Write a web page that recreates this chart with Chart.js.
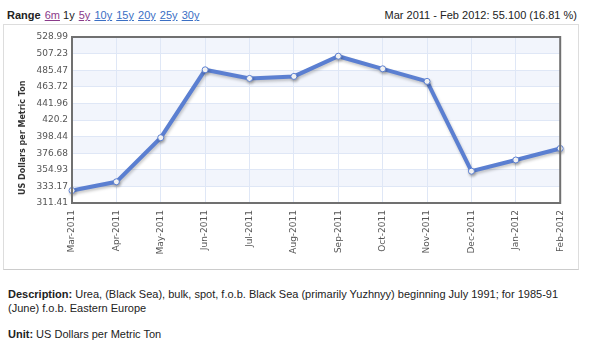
<!DOCTYPE html>
<html>
<head>
<meta charset="utf-8">
<script src="https://cdn.jsdelivr.net/npm/chart.js@4"></script>
<style>
  body { margin: 0; background: #fff; width: 600px; height: 353px; overflow: hidden; font-family: "Liberation Sans", Arial, sans-serif; }
  #head { position: absolute; left: 7px; top: 9px; font-size: 11px; color: #222; }
  #head a { text-decoration: underline; color: #3b6fc4; margin-left: 1px; }
  #head a.v { color: #8a3a8a; }
  #change { position: absolute; right: 23px; top: 9px; font-size: 11px; color: #222; }
  #box { position: absolute; left: 3px; top: 24px; width: 574px; height: 244px; border: 1px solid #ddd; border-bottom-color: #ccc; }
  #wrap { position: absolute; left: 0; top: 0; width: 574px; height: 244px; }
  #desc { position: absolute; left: 8px; top: 287px; font-size: 11px; line-height: 14px; color: #222; }
  #unit { position: absolute; left: 8px; top: 328px; font-size: 11px; color: #222; }
</style>
</head>
<body>
<div id="head"><b>Range</b> <a class="v">6m</a> 1y <a class="v">5y</a> <a>10y</a> <a>15y</a> <a>20y</a> <a>25y</a> <a>30y</a></div>
<div id="change">Mar 2011 - Feb 2012: 55.100 (16.81 %)</div>
<div id="box"><div id="wrap"><canvas id="myChart"></canvas></div></div>
<div id="desc"><b>Description:</b> Urea, (Black Sea), bulk, spot, f.o.b. Black Sea (primarily Yuzhnyy) beginning July 1991; for 1985-91<br>(June) f.o.b. Eastern Europe</div>
<div id="unit"><b>Unit:</b> US Dollars per Metric Ton</div>
<script>
const months = ['Mar-2011','Apr-2011','May-2011','Jun-2011','Jul-2011','Aug-2011','Sep-2011','Oct-2011','Nov-2011','Dec-2011','Jan-2012','Feb-2012'];
const prices = [327.78, 339.2, 397.0, 486.0, 474.7, 477.3, 503.8, 487.3, 470.8, 353.1, 367.8, 382.88];
const yTicks = [311.41, 333.17, 354.93, 376.68, 398.44, 420.2, 441.96, 463.72, 485.47, 507.23, 528.99];
const yTitle = 'US Dollars per Metric Ton';

// alternating bands, line shadow, dark frame and the axis title
const frame = {
  id: 'frame',
  beforeDraw(chart) {
    const {ctx, chartArea: a, scales: {y}} = chart;
    ctx.save();
    ctx.fillStyle = '#f2f5fc';
    for (let i = 1; i < yTicks.length - 1; i += 2) {
      const top = y.getPixelForValue(yTicks[i + 1]);
      const bot = y.getPixelForValue(yTicks[i]);
      ctx.fillRect(a.left, top, a.right - a.left, bot - top);
    }
    ctx.restore();
  },
  beforeDatasetsDraw(chart) {
    const ctx = chart.ctx;
    ctx.save();
    ctx.shadowColor = 'rgba(0,0,0,0.22)';
    ctx.shadowBlur = 3;
    ctx.shadowOffsetX = 1;
    ctx.shadowOffsetY = 2;
  },
  afterDatasetsDraw(chart) {
    chart.ctx.restore();
  },
  afterDraw(chart) {
    const {ctx, chartArea: a} = chart;
    ctx.save();
    ctx.strokeStyle = '#707070';
    ctx.lineWidth = 2;
    ctx.strokeRect(a.left, a.top, a.right - a.left, a.bottom - a.top);
    ctx.translate(19, a.bottom - 8);
    ctx.rotate(-Math.PI / 2);
    ctx.fillStyle = '#333';
    ctx.font = 'bold 8px "DejaVu Sans"';
    ctx.textAlign = 'left';
    ctx.textBaseline = 'middle';
    ctx.fillText(yTitle, 0, 0);
    ctx.restore();
  }
};

new Chart("myChart", {
  type: "line",
  data: {
    labels: months,
    datasets: [{
      data: prices,
      borderColor: "#5b7fd1",
      borderWidth: 4,
      pointRadius: 3,
      pointBackgroundColor: "#fff",
      pointBorderColor: "#5b7fd1",
      pointBorderWidth: 1,
      tension: 0,
      fill: false
    }]
  },
  options: {
    responsive: true,
    maintainAspectRatio: false,
    animation: false,
    layout: { padding: { top: 12, right: 11, left: 0, bottom: 0 } },
    plugins: { legend: { display: false }, tooltip: { enabled: false } },
    scales: {
      x: {
        offset: false,
        grid: { color: '#dfe7f6', drawTicks: false },
        border: { display: false },
        ticks: {
          autoSkip: false, maxRotation: 90, minRotation: 90, padding: 7,
          color: '#555', font: { family: 'DejaVu Sans', size: 9 }
        },
        afterFit(s) { s.height = 66; }
      },
      y: {
        min: 311.41, max: 528.99,
        grid: { color: '#dfe7f6', drawTicks: false },
        border: { display: false },
        afterBuildTicks(s) { s.ticks = yTicks.map(v => ({ value: v })); },
        ticks: {
          padding: 4, color: '#555', font: { family: 'DejaVu Sans', size: 9 },
          callback: v => String(v)
        },
        afterFit(s) { s.width = 68; }
      }
    }
  },
  plugins: [frame]
});
</script>
</body>
</html>
